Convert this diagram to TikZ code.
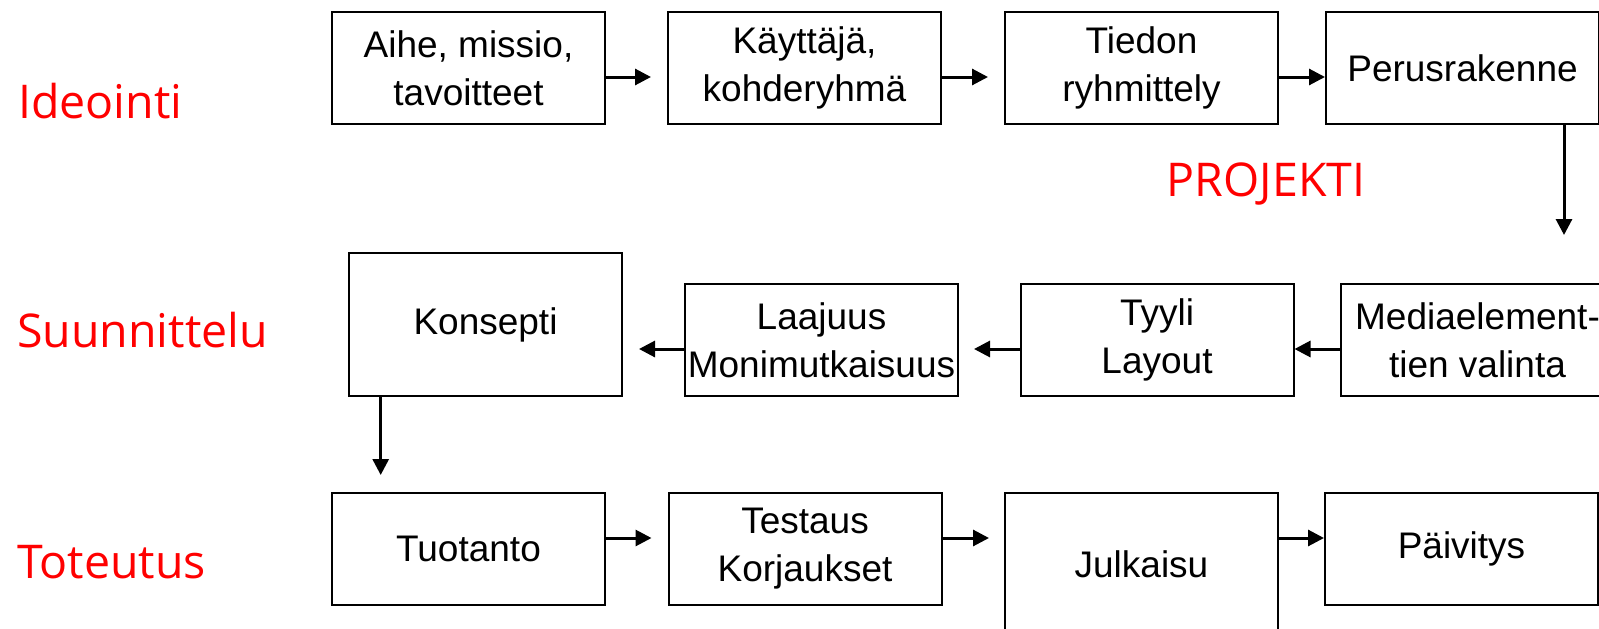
\documentclass[tikz,border=0pt]{standalone}
\usepackage{fontspec}
\setmainfont{Liberation Sans}
\newfontfamily\labelfont{Open Sans}
\usetikzlibrary{arrows.meta}
\definecolor{labelred}{RGB}{255,0,0}
\begin{document}
\begin{tikzpicture}[x=1pt,y=-1pt,
  box/.style={draw=black,line width=2pt,minimum width=273pt,minimum height=112pt,
    inner sep=0pt,align=center,font=\fontsize{37}{48}\selectfont},
  tallbox/.style={box,minimum height=143pt},
  arr/.style={line width=3pt,-{Triangle[length=16pt,width=16pt]}},
  phase/.style={text=labelred,font=\labelfont\fontsize{46.5}{56}\selectfont,inner sep=0pt,anchor=base west},
]
\useasboundingbox (0,0) rectangle (1599,629);
\clip (0,0) rectangle (1599,629);
\fill[white] (0,0) rectangle (1599,629);

% phase labels
\node[phase] (ideointi) at (18,118) {Ideointi};
\node[phase] (suunnittelu) at (17,347) {Suunnittelu};
\node[phase] (toteutus) at (17,578) {Toteutus};
\node[phase,anchor=base] (projekti) at (1266,196) {PROJEKTI};

% row 1
\node[box] (b1) at (468.5,68) {Aihe, missio,\\tavoitteet};
\node[box] (b2) at (804.5,68) {Käyttäjä,\\kohderyhmä};
\node[box] (b3) at (1141.5,68) {Tiedon\\ryhmittely};
\node[box] (b4) at (1462.5,68) {Perusrakenne};

% row 2
\node[tallbox] (konsepti) at (485.5,324.5) {Konsepti};
\node[box] (laajuus) at (821.5,340) {Laajuus\\Monimutkaisuus};
\node[box] (tyyli) at (1157,340) {Tyyli\\Layout};
\node[box] (media) at (1477.5,340) {Mediaelement-\\tien valinta};

% row 3
\node[box] (tuotanto) at (468.5,548.5) {Tuotanto};
\node[box] (testaus) at (805,548.5) {Testaus\\Korjaukset};
\node[tallbox] (julkaisu) at (1141.5,564.5) {Julkaisu};
\node[box] (paivitys) at (1461.5,548.5) {Päivitys};

% connectors row 1
\draw[arr,shorten >=16pt] ([yshift=-9pt]b1.east) -- ([yshift=-9pt]b2.west);
\draw[arr,shorten >=16pt] ([yshift=-9pt]b2.east) -- ([yshift=-9pt]b3.west);
\draw[arr] ([yshift=-9pt]b3.east) -- ([yshift=-9pt]b4.west);
\coordinate (d1) at (1564,235);
\draw[arr] (b4.south -| d1) -- (d1);

% connectors row 2
\draw[arr] ([yshift=-9pt]media.west) -- ([yshift=-9pt]tyyli.east);
\draw[arr,shorten >=15pt] ([yshift=-9pt]tyyli.west) -- ([yshift=-9pt]laajuus.east);
\draw[arr,shorten >=16pt] ([yshift=-9pt]laajuus.west) -- ([yshift=-9pt]laajuus.west -| konsepti.east);
\coordinate (d2) at (380.7,475);
\draw[arr] (konsepti.south -| d2) -- (d2);

% connectors row 3
\draw[arr,shorten >=16pt] ([yshift=10.5pt]tuotanto.east) -- ([yshift=10.5pt]testaus.west);
\draw[arr,shorten >=15pt] ([yshift=10.5pt]testaus.east) -- ([yshift=10.5pt]testaus.east -| julkaisu.west);
\draw[arr] ([yshift=10.5pt]paivitys.west -| julkaisu.east) -- ([yshift=10.5pt]paivitys.west);
\end{tikzpicture}
\end{document}
